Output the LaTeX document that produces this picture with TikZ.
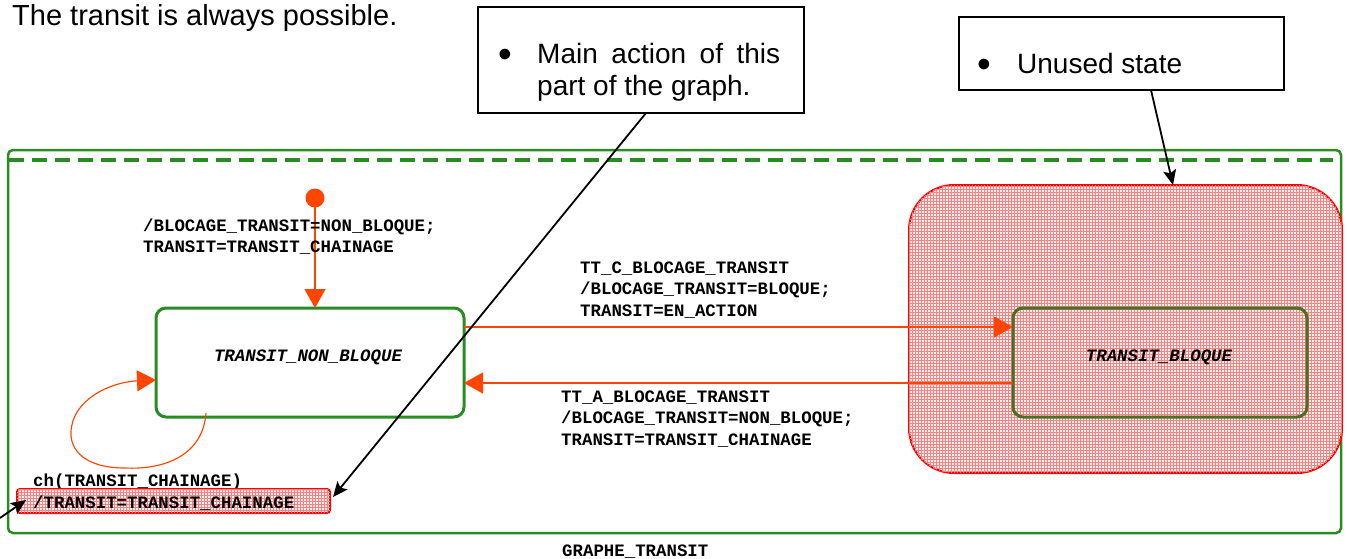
\documentclass[tikz,border=0pt]{standalone}
\usepackage{fontspec}
\setmainfont{Liberation Sans}
\newfontfamily\codefont{Liberation Mono}
\usetikzlibrary{arrows.meta,patterns}

\definecolor{stategreen}{RGB}{40,140,35}
\definecolor{blockgreen}{RGB}{70,112,35}
\definecolor{transorange}{RGB}{255,69,0}
\definecolor{meshred}{RGB}{248,130,130}
\definecolor{meshpink}{RGB}{255,240,240}

\begin{document}
\begin{tikzpicture}[x=1pt,y=-1pt,
  frame/.style={rectangle, draw=stategreen, line width=2.5pt, rounded corners=5pt,
    inner sep=0pt, outer sep=0pt},
  dashline/.style={draw=stategreen, line width=3.5pt, dash pattern=on 15pt off 8pt},
  statebox/.style={rectangle, line width=3pt, rounded corners=10pt,
    minimum width=308pt, minimum height=109pt, inner sep=0pt, outer sep=0pt},
  unused/.style={rectangle, draw=red, line width=2pt, fill=meshpink,
    postaction={pattern=grid, pattern color=meshred}, inner sep=0pt, outer sep=0pt},
  callout/.style={rectangle, draw=black, line width=1.5pt, inner sep=0pt, outer sep=0pt},
  calltext/.style={inner sep=0pt, font=\fontsize{28}{32}\selectfont},
  code/.style={inner sep=0pt, font=\fontsize{17.4}{21.5}\selectfont\codefont\bfseries},
  statename/.style={inner sep=0pt, font=\fontsize{17.4}{21.5}\selectfont\codefont\bfseries\itshape},
  trans/.style={draw=transorange, line width=1.15pt,
    -{Triangle[length=19pt,width=21pt]}, color=transorange},
  note/.style={draw=black, line width=1.8pt,
    -{Stealth[length=15pt,width=13pt,inset=3pt]}},
]
\useasboundingbox (0,0) rectangle (1347,558);

% heading
\node[anchor=base west, inner sep=0pt, font=\fontsize{29}{34}\selectfont] (heading)
  at (12,25) {The transit is always possible.};

% enclosing graph frame
\node[frame, minimum width=1333pt, minimum height=383pt] (graphe) at (674.5,341.5) {};
\draw[dashline] ([xshift=1pt,yshift=-10pt]graphe.north west) -- ([xshift=-8pt,yshift=-10pt]graphe.north east);
\node[code, anchor=base west] (graphename) at (562,556) {GRAPHE\_TRANSIT};

% unused state area
\node[unused, rounded corners=45pt, minimum width=433pt, minimum height=288pt] (big) at (1125.5,329) {};

% states
\node[statebox, draw=stategreen] (nb) at (310,362.5) {};
\node[statename, anchor=base] (nbname) at (308,361) {TRANSIT\_NON\_BLOQUE};
\node[statebox, draw=blockgreen, minimum width=294pt] (b) at (1160,362.5) {};
\node[statename, anchor=base] (bname) at (1159,361) {TRANSIT\_BLOQUE};

% initial pseudo-state
\node[circle, fill=transorange, minimum size=19pt, inner sep=0pt] (init) at (315,198) {};
\draw[trans] (init.center) -- (init |- nb.north);
\node[code, anchor=base west] (initlabel) at (143,231)
  {\begin{tabular}[t]{@{}l@{}}/BLOCAGE\_TRANSIT=NON\_BLOQUE;\\TRANSIT=TRANSIT\_CHAINAGE\end{tabular}};

% transitions between the two states
\draw[trans] ([yshift=35.5pt]nb.east) -- ([yshift=35.5pt]b.west);
\node[code, anchor=base west] (tclabel) at (580,273)
  {\begin{tabular}[t]{@{}l@{}}TT\_C\_BLOCAGE\_TRANSIT\\/BLOCAGE\_TRANSIT=BLOQUE;\\TRANSIT=EN\_ACTION\end{tabular}};
\draw[trans] ([yshift=-20.5pt]b.west) -- ([yshift=-20.5pt]nb.east);
\node[code, anchor=base west] (talabel) at (561,402)
  {\begin{tabular}[t]{@{}l@{}}TT\_A\_BLOCAGE\_TRANSIT\\/BLOCAGE\_TRANSIT=NON\_BLOQUE;\\TRANSIT=TRANSIT\_CHAINAGE\end{tabular}};

% self transition on TRANSIT_NON_BLOQUE
\coordinate (loopstart) at ([xshift=50pt,yshift=4pt]nb.south west);
\coordinate (loopend) at ([yshift=-17.5pt]nb.west);
\draw[trans] (loopstart) .. controls (203,455) and (165,470) .. (125,468)
  .. controls (85,468) and (70,450) .. (71,432)
  .. controls (72,400) and (110,382) .. (loopend);
\node[code, anchor=base west] (chlabel) at (33,486) {ch(TRANSIT\_CHAINAGE)};
\node[unused, rounded corners=3pt, minimum width=313pt, minimum height=24pt] (chbox) at (173.5,501) {};
\node[code, anchor=base west] (chaction) at (33,508) {/TRANSIT=TRANSIT\_CHAINAGE};

% callouts
\node[callout, minimum width=326pt, minimum height=106pt] (call1) at (641,60) {};
\node[calltext, anchor=base] (bullet1) at (505,67) {\scalebox{1.4}{\textbullet}};
\node[calltext, anchor=base west] (call1text) at (537,63)
  {\begin{tabular}[t]{@{}l@{}}\makebox[243pt][s]{Main action of this}\\part of the graph.\end{tabular}};
\node[callout, minimum width=325pt, minimum height=73pt] (call2) at (1121.5,53.5) {};
\node[calltext, anchor=base] (bullet2) at (984,77) {\scalebox{1.4}{\textbullet}};
\node[calltext, anchor=base west] (call2text) at (1017,73) {Unused state};

\draw[note] ([xshift=5pt]call1.south) -- ([xshift=3pt,yshift=4pt]chbox.east);
\draw[note] ([xshift=29.5pt]call2.south) -- ([xshift=47.5pt]big.north);
\coordinate (offleft) at (0,518);
\draw[note] (offleft) -- ([xshift=9pt,yshift=1pt]chbox.west);
\end{tikzpicture}
\end{document}
